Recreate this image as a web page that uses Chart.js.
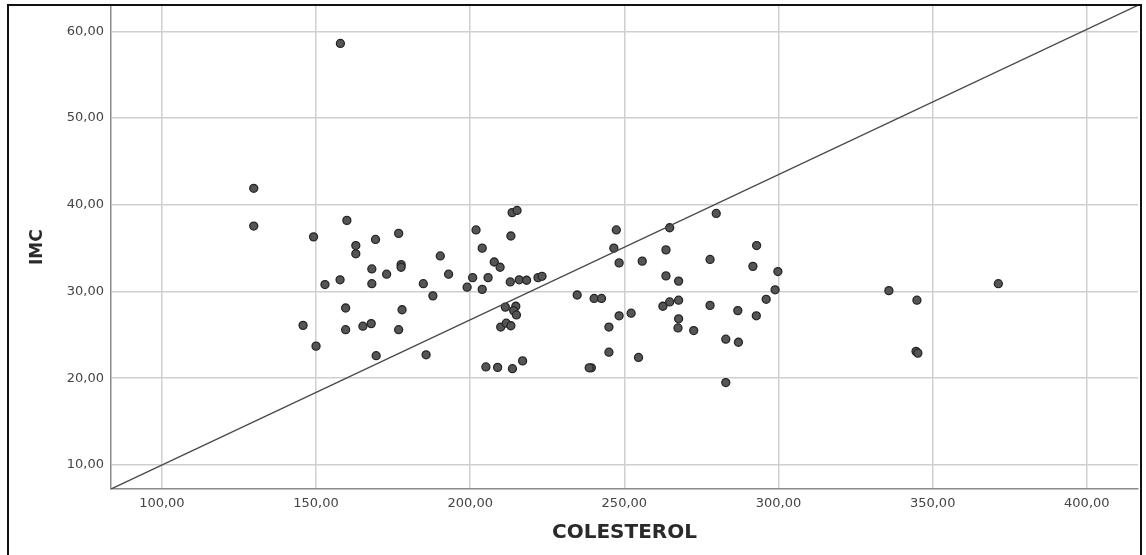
<!DOCTYPE html>
<html>
<head>
<meta charset="utf-8">
<title>IMC vs COLESTEROL</title>
<script src="https://cdn.jsdelivr.net/npm/chart.js@4/dist/chart.umd.min.js"></script>
<style>
  html, body { margin: 0; padding: 0; background: #ffffff; }
  #wrap { position: relative; width: 1146px; height: 555px; }
  canvas { display: block; }
</style>
</head>
<body>
<div id="wrap"><canvas id="chart" width="1146" height="555"></canvas></div>
<script>
// Cholesterol (x) and body-mass index (y) for each subject
const colesterol = [
  129.8, 129.8, 157.9, 160.0, 149.2, 162.9, 162.9, 169.3, 176.8, 190.3,
  201.9, 203.9, 207.8, 209.7, 213.6, 215.2, 213.2, 168.1, 172.9, 177.6,
  177.6, 193.0, 157.8, 152.9, 168.1, 184.8, 187.9, 200.8, 205.8, 199.0,
  203.9, 213.0, 215.9, 218.3, 222.0, 223.3, 234.7, 159.6, 177.9, 145.8,
  159.6, 165.2, 167.9, 176.8, 150.0, 169.5, 185.7, 211.4, 214.8, 214.1,
  215.0, 209.9, 211.7, 213.2, 205.1, 208.9, 213.7, 217.0,
  279.8, 264.7, 247.4, 246.6, 248.3, 255.8, 263.5, 277.8, 292.9, 291.7,
  299.8, 263.5, 267.6, 298.9, 240.2, 242.6, 296.0, 262.5, 264.7, 267.6,
  277.8, 286.8, 292.8, 248.3, 252.2, 245.0, 267.6, 267.4, 272.5, 282.9,
  287.0, 245.0, 254.6, 239.3, 282.9, 238.6,
  335.8, 344.9, 344.6, 345.2, 371.3
];
const imc = [
  41.9, 37.55, 58.6, 38.2, 36.3, 35.3, 34.35, 36.0, 36.7, 34.1,
  37.1, 35.0, 33.4, 32.8, 39.1, 39.35, 36.4, 32.6, 32.0, 33.1,
  32.8, 32.0, 31.35, 30.8, 30.9, 30.9, 29.5, 31.6, 31.6, 30.5,
  30.25, 31.1, 31.35, 31.3, 31.6, 31.75, 29.6, 28.1, 27.9, 26.1,
  25.6, 26.0, 26.3, 25.6, 23.7, 22.6, 22.7, 28.2, 28.3, 27.8,
  27.3, 25.9, 26.35, 26.05, 21.3, 21.25, 21.1, 22.0,
  39.0, 37.35, 37.1, 35.0, 33.3, 33.5, 34.8, 33.7, 35.3, 32.9,
  32.3, 31.8, 31.2, 30.2, 29.2, 29.2, 29.1, 28.3, 28.8, 29.0,
  28.4, 27.8, 27.2, 27.2, 27.5, 25.9, 26.85, 25.8, 25.5, 24.5,
  24.15, 23.0, 22.4, 21.2, 19.5, 21.2,
  30.1, 29.0, 23.1, 22.9, 30.9
];

// Axis extents and tick values
const xRange = [83.5, 416.6];
const yRange = [7.23, 63.0];
const xTicks = [100, 150, 200, 250, 300, 350, 400];
const yTicks = [10, 20, 30, 40, 50, 60];

// Diagonal reference line running corner to corner of the plot
const refLineX = [83.5, 416.6];
const refLineY = [7.23, 63.0];

const points = colesterol.map((c, i) => ({ x: c, y: imc[i] }));
const refLine = refLineX.map((x, i) => ({ x: x, y: refLineY[i] }));

const fmt = v => Number(v).toFixed(2).replace('.', ',');

// Black frame around the figure
const framePlugin = {
  id: 'frame',
  afterDraw(chart) {
    const ctx = chart.ctx;
    ctx.save();
    ctx.strokeStyle = '#111111';
    ctx.lineWidth = 2;
    ctx.beginPath();
    ctx.moveTo(8, 556);
    ctx.lineTo(8, 5);
    ctx.lineTo(1141, 5);
    ctx.lineTo(1141, 556);
    ctx.stroke();
    ctx.restore();
  }
};

const tickFont = { family: 'DejaVu Sans, sans-serif', size: 13 };

new Chart(document.getElementById('chart'), {
  type: 'scatter',
  data: {
    datasets: [
      {
        label: 'Referencia',
        data: refLine,
        showLine: true,
        borderColor: '#4a4a4a',
        borderWidth: 1.4,
        pointRadius: 0,
        fill: false
      },
      {
        label: 'IMC',
        data: points,
        backgroundColor: '#555555',
        borderColor: '#262626',
        borderWidth: 1.3,
        pointRadius: 4,
        pointHoverRadius: 4
      }
    ]
  },
  options: {
    responsive: false,
    animation: false,
    devicePixelRatio: 1,
    layout: { padding: { left: 0, right: 8, top: 5, bottom: 0 } },
    plugins: {
      legend: { display: false },
      tooltip: { enabled: false }
    },
    scales: {
      x: {
        type: 'linear',
        min: xRange[0],
        max: xRange[1],
        afterBuildTicks: s => { s.ticks = xTicks.map(v => ({ value: v })); },
        afterFit: s => { s.height = 66; s.paddingLeft = 0; s.paddingRight = 0; },
        border: { display: true, color: '#8a8a8a', width: 1.5 },
        grid: { color: '#cfcfcf', lineWidth: 1.5, drawTicks: false },
        ticks: {
          padding: 7,
          color: '#444444',
          font: tickFont,
          maxRotation: 0,
          callback: v => fmt(v)
        },
        title: {
          display: true,
          text: 'COLESTEROL',
          color: '#2a2a2a',
          font: { family: 'DejaVu Sans, sans-serif', size: 20, weight: 'bold' },
          padding: { top: 0, bottom: 10 }
        }
      },
      y: {
        type: 'linear',
        min: yRange[0],
        max: yRange[1],
        afterBuildTicks: s => { s.ticks = yTicks.map(v => ({ value: v })); },
        afterFit: s => { s.width = 111; s.paddingTop = 0; s.paddingBottom = 0; },
        border: { display: true, color: '#8a8a8a', width: 1.5 },
        grid: { color: '#cfcfcf', lineWidth: 1.5, drawTicks: false },
        ticks: {
          padding: 7,
          color: '#444444',
          font: tickFont,
          callback: v => fmt(v)
        },
        title: {
          display: true,
          text: 'IMC',
          color: '#2a2a2a',
          font: { family: 'DejaVu Sans, sans-serif', size: 17, weight: 'bold' },
          padding: { top: 27, bottom: 0 }
        }
      }
    }
  },
  plugins: [framePlugin]
});
</script>
</body>
</html>
